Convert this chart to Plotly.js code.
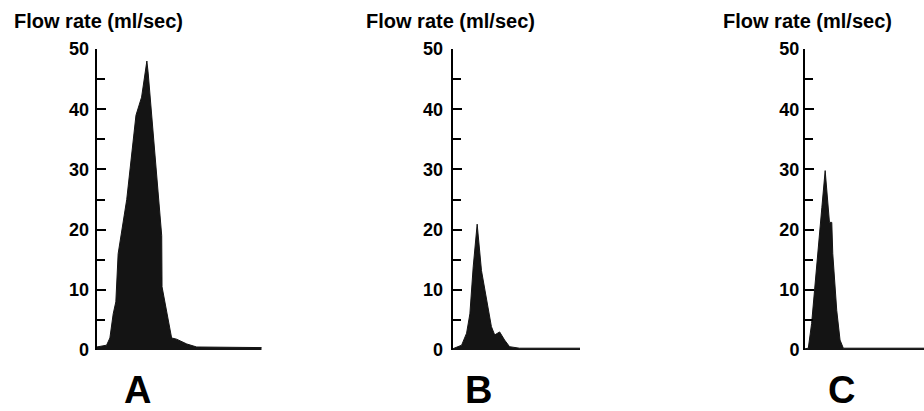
<!DOCTYPE html>
<html>
<head>
<meta charset="utf-8">
<script src="https://cdn.plot.ly/plotly-3.0.1.min.js"></script>
<style>html,body{margin:0;padding:0;background:#fff;}#chart{width:924px;height:411px;}</style>
</head>
<body>
<div id="chart"></div>
<script>
// Panel A
const timeA = [0, 3.0, 4.0, 5.0, 5.8, 6.5, 9.1, 11.9, 13.6, 15.2, 15.6, 17.2, 19.7, 19.8, 20.7, 22.7, 24.2, 27.3, 30.3, 50];
const flowA = [0.5, 0.8, 2, 6, 8, 16, 25, 39, 42, 48, 46, 35, 19, 10.5, 8, 2, 1.8, 1, 0.5, 0.4];
// Panel B
const timeB = [0, 2.7, 4.2, 5.2, 6.2, 7.4, 8.7, 10.2, 11.7, 12.7, 14.2, 15.7, 17.2, 20.2, 38.5];
const flowB = [0.2, 0.8, 2.8, 6, 13.8, 20.9, 13.2, 8.3, 3.9, 2.5, 3.0, 1.65, 0.55, 0.3, 0.3];
// Panel C
const timeC = [0, 1.0, 2.0, 3.5, 5.1, 6.1, 6.8, 7.4, 8.1, 8.4, 9.6, 10.6, 11.6, 36];
const flowC = [0.2, 0.3, 4.4, 14.3, 23.7, 29.8, 24.8, 21.2, 21.2, 16, 6.6, 1.65, 0.3, 0.3];

const panelLabels = ['A', 'B', 'C'];
const yTitle = 'Flow rate (ml/sec)';
const yTickVals = [0, 10, 20, 30, 40, 50];
const yTickText = ['0', '10', '20', '30', '40', '50'];

const W = 924, H = 411;
const px = v => v / W;
const py = v => 1 - v / H;
const FONT = 'Liberation Sans, Arial, Helvetica, sans-serif';

const fillTrace = (x, y, xa, ya) => ({
  x: x, y: y, xaxis: xa, yaxis: ya, type: 'scatter', mode: 'lines',
  fill: 'tozeroy', fillcolor: '#141414', line: {color: '#141414', width: 1},
  hoverinfo: 'skip', showlegend: false
});

const data = [
  fillTrace(timeA, flowA, 'x', 'y'),
  fillTrace(timeB, flowB, 'x2', 'y2'),
  fillTrace(timeC, flowC, 'x3', 'y3')
];

const yDomain = [py(350), py(49)];
const yAxis = (anchor, standoff) => ({
  anchor: anchor, domain: yDomain, range: [0, 50],
  showline: true, linecolor: '#000', linewidth: 2,
  ticks: 'inside', ticklen: 9, tickwidth: 2, tickcolor: '#000',
  tickvals: yTickVals, ticktext: yTickText,
  ticklabelstandoff: standoff,
  minor: {dtick: 5, tick0: 0, ticks: 'inside', ticklen: 8, tickwidth: 2, tickcolor: '#000', showgrid: false},
  showgrid: false, zeroline: false, fixedrange: true,
  tickfont: {family: FONT, size: 18, color: '#000', weight: 'bold'}
});
const xAxis = (domain, range) => ({
  domain: domain, range: range, visible: false, fixedrange: true
});

const layout = {
  width: W, height: H,
  margin: {l: 0, r: 0, t: 0, b: 0},
  paper_bgcolor: '#fff', plot_bgcolor: 'rgba(0,0,0,0)',
  showlegend: false,
  xaxis: xAxis([px(96.7), px(261.7)], [0, 50]),
  xaxis2: xAxis([px(452.7), px(580)], [0, 38.5]),
  xaxis3: xAxis([px(805), 1], [0, 36]),
  yaxis: yAxis('x', 2),
  yaxis2: yAxis('x2', 4),
  yaxis3: yAxis('x3', 0),
  annotations: [
    {text: yTitle, xref: 'paper', yref: 'paper', x: px(12), y: py(21), xanchor: 'left', yanchor: 'middle', showarrow: false, font: {family: FONT, size: 20, color: '#000', weight: 'bold'}},
    {text: yTitle, xref: 'paper', yref: 'paper', x: px(364), y: py(21), xanchor: 'left', yanchor: 'middle', showarrow: false, font: {family: FONT, size: 20, color: '#000', weight: 'bold'}},
    {text: yTitle, xref: 'paper', yref: 'paper', x: px(721), y: py(21), xanchor: 'left', yanchor: 'middle', showarrow: false, font: {family: FONT, size: 20, color: '#000', weight: 'bold'}},
    {text: panelLabels[0], xref: 'paper', yref: 'paper', x: px(137), y: py(390), xanchor: 'center', yanchor: 'middle', showarrow: false, font: {family: FONT, size: 38, color: '#000', weight: 'bold'}},
    {text: panelLabels[1], xref: 'paper', yref: 'paper', x: px(478.5), y: py(390), xanchor: 'center', yanchor: 'middle', showarrow: false, font: {family: FONT, size: 38, color: '#000', weight: 'bold'}},
    {text: panelLabels[2], xref: 'paper', yref: 'paper', x: px(841), y: py(390), xanchor: 'center', yanchor: 'middle', showarrow: false, font: {family: FONT, size: 38, color: '#000', weight: 'bold'}}
  ]
};

Plotly.newPlot('chart', data, layout, {displayModeBar: false, staticPlot: true});
</script>
</body>
</html>
